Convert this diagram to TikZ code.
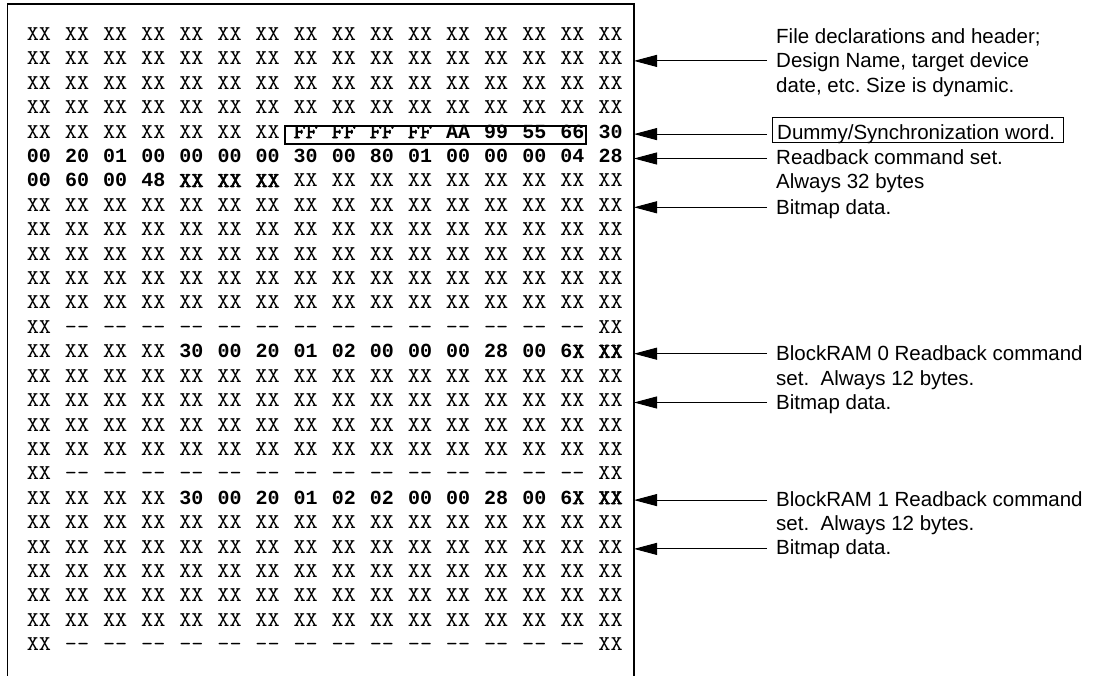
\documentclass[tikz,border=0pt]{standalone}
\usepackage{graphicx}
\usepackage{fontspec}
\setmainfont{Liberation Sans}
\newfontfamily\monof{Liberation Mono}
\newfontfamily\lmm{lmmono10-regular.otf}
\newfontfamily\lmmb{lmmono10-regular.otf}[FakeBold=2.5]
\usetikzlibrary{arrows.meta,calc}
\frenchspacing
\newcommand\dd{-\kern0pt-}
\newcommand\xr[1]{\scalebox{1.1}[1]{\lmm\fontsize{21}{22}\selectfont #1}}
\newcommand\xb[1]{\scalebox{1.1}[1]{\lmmb\fontsize{21}{22}\selectfont #1}}
\newcommand\db[1]{{\monof\bfseries\fontsize{20}{24}\selectfont #1}}
\newcommand\cellrow[4]{%
  \foreach \t [count=\k from 0] in {#4} {%
    \pgfmathtruncatemacro\cc{#2+\k}%
    \node[cell] (c-#1-\cc) at ({39+38.1*(\cc-1)}, {40.6+24.4*(#1-1)}) {#3{\t}};
  }}
\begin{document}
\begin{tikzpicture}[x=1pt,y=-1pt,
  cell/.style={anchor=base,inner sep=0pt},
  lbl/.style={anchor=base west,inner sep=0pt,font=\fontsize{20.5}{24}\selectfont},
  arr/.style={line width=0.9pt,-{Triangle[length=23pt,width=12pt]}},
  frame/.style={line width=1.3pt}]
\useasboundingbox (0,0) rectangle (1103,676);
% frame (open at bottom)
\draw[frame] (7.5,676) -- (7.5,4) -- (634,4) -- (634,676);
\coordinate (fr) at (634,0);
% hex rows
\foreach \r in {1,2,3,4,8,9,10,11,12,15,16,17,18,21,22,23,24,25}{%
  \cellrow{\r}{1}{\xr}{XX,XX,XX,XX,XX,XX,XX,XX,XX,XX,XX,XX,XX,XX,XX,XX}}
\foreach \r in {13,19,26}{%
  \cellrow{\r}{1}{\xr}{XX,\dd,\dd,\dd,\dd,\dd,\dd,\dd,\dd,\dd,\dd,\dd,\dd,\dd,\dd,XX}}
\cellrow{5}{1}{\xr}{XX,XX,XX,XX,XX,XX,XX}
\cellrow{5}{8}{\xb}{FF,FF,FF,FF}
\cellrow{5}{12}{\db}{AA,99,55,66,30}
\cellrow{6}{1}{\db}{00,20,01,00,00,00,00,30,00,80,01,00,00,00,04,28}
\cellrow{7}{1}{\db}{00,60,00,48}
\cellrow{7}{5}{\xb}{XX,XX,XX}
\cellrow{7}{8}{\xr}{XX,XX,XX,XX,XX,XX,XX,XX,XX}
\cellrow{14}{1}{\xr}{XX,XX,XX,XX}
\cellrow{14}{5}{\db}{30,00,20,01,02,00,00,00,28,00,6\xb{X}}
\cellrow{14}{16}{\xb}{XX}
\cellrow{20}{1}{\xr}{XX,XX,XX,XX}
\cellrow{20}{5}{\db}{30,00,20,01,02,02,00,00,28,00,6\xb{X}}
\cellrow{20}{16}{\xb}{XX}
% sync word box
\node[draw,line width=1.6pt,minimum width=301pt,minimum height=18pt,inner sep=0pt] (sync) at (435.5,135) {};
% labels
\node[lbl] (l1) at (776,43.5) {File declarations and header;};
\node[lbl] (l2) at (776,67.9) {Design Name, target device};
\node[lbl] (l3) at (776,92.3) {date, etc. Size is dynamic.};
\node[draw,line width=0.7pt,minimum width=291pt,minimum height=25pt,inner sep=0pt] (l5box) at (917.5,129.5) {};
\node[lbl] (l5) at (777,139.5) {Dummy/Synchronization word.};
\node[lbl] (l6) at (776,164.5) {Readback command set.};
\node[lbl] (l7) at (776,188.9) {Always 32 bytes};
\node[lbl] (l8) at (776,214.3) {Bitmap data.};
\node[lbl] (l14) at (776,360.7) {BlockRAM 0 Readback command};
\node[lbl] (l15) at (776,385.1) {set.~ Always 12 bytes.};
\node[lbl] (l16) at (776,409.5) {Bitmap data.};
\node[lbl] (l20) at (776,506.1) {BlockRAM 1 Readback command};
\node[lbl] (l21) at (776,530.5) {set.~ Always 12 bytes.};
\node[lbl] (l22) at (776,554.9) {Bitmap data.};
% arrows
\foreach \r/\n in {2/a2,5/a5,6/a6,8/a8,14/a14,16/a16,20/a20,22/a22}{%
  \coordinate (\n) at (767,{36.5+24.4*(\r-1)});
  \draw[arr] (\n) -- (\n -| fr);
}
\end{tikzpicture}
\end{document}
